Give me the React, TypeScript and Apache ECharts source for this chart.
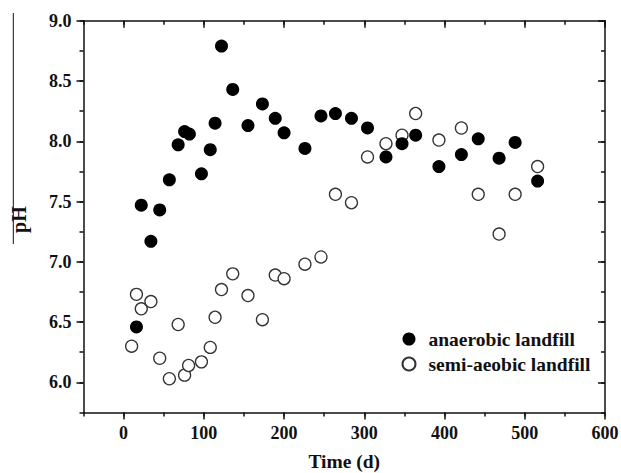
import React, { useEffect, useRef } from "react";
import * as echarts from "echarts";

const days = [16, 22, 34, 45, 57, 68, 76, 82, 97, 108, 114, 122, 136, 155, 173, 189, 200, 226, 246, 264, 284, 304, 327, 347, 364, 393, 421, 442, 468, 488, 516];
const anaerobicPH = [6.46, 7.47, 7.17, 7.43, 7.68, 7.97, 8.08, 8.06, 7.73, 7.93, 8.15, 8.79, 8.43, 8.13, 8.31, 8.19, 8.07, 7.94, 8.21, 8.23, 8.19, 8.11, 7.87, 7.98, 8.05, 7.79, 7.89, 8.02, 7.86, 7.99, 7.67];
const semiDays = [10, 16, 22, 34, 45, 57, 68, 76, 81, 97, 108, 114, 122, 136, 155, 173, 189, 200, 226, 246, 264, 284, 304, 327, 347, 364, 393, 421, 442, 468, 488, 516];
const semiPH = [6.3, 6.73, 6.61, 6.67, 6.2, 6.03, 6.48, 6.06, 6.14, 6.17, 6.29, 6.54, 6.77, 6.9, 6.72, 6.52, 6.89, 6.86, 6.98, 7.04, 7.56, 7.49, 7.87, 7.98, 8.05, 8.23, 8.01, 8.11, 7.56, 7.23, 7.56, 7.79];
const xTicks = [0, 100, 200, 300, 400, 500, 600];
const yTicks = [6.0, 6.5, 7.0, 7.5, 8.0, 8.5, 9.0];

const FONT = "'Liberation Serif', 'Times New Roman', serif";

export default function App() {
  const ref = useRef<HTMLDivElement>(null);
  useEffect(() => {
    const chart = echarts.init(ref.current!, null, { renderer: "svg" });
    const line = { show: true, onZero: false, lineStyle: { color: "#111", width: 1.5 } };
    const label = { color: "#111", fontFamily: FONT, fontWeight: "bold" as const, fontSize: 18 };
    chart.setOption({
      animation: false,
      backgroundColor: "#fff",
      grid: { left: 83.5, right: 16, top: 20.7, bottom: 60.5, outerBoundsMode: "none", containLabel: false },
      legend: {
        orient: "vertical",
        left: 396.5,
        top: 324,
        itemWidth: 13,
        itemHeight: 13,
        itemGap: 5,
        icon: "circle",
        textStyle: { ...label, fontSize: 19.5, lineHeight: 19, padding: [0, 0, 0, 8] },
        data: ["anaerobic landfill", "semi-aeobic landfill"],
      },
      xAxis: [
        {
          type: "value", position: "bottom", min: -50, max: 600, interval: 50,
          axisLine: line, splitLine: { show: false },
          axisTick: { show: true, length: 7, customValues: xTicks, lineStyle: { color: "#111", width: 1.5 } },
          axisLabel: { ...label, margin: 11, customValues: xTicks },
          name: "Time (d)", nameLocation: "middle", nameGap: 42,
          nameTextStyle: { color: "#111", fontFamily: FONT, fontWeight: "bold", fontSize: 19.5, lineHeight: 14 },
        },
        {
          type: "value", position: "bottom", min: -50, max: 600, interval: 50,
          axisLine: { show: false, onZero: false }, splitLine: { show: false },
          axisTick: { show: true, length: 4, lineStyle: { color: "#111", width: 1.5 } },
          axisLabel: { show: false },
        },
        {
          type: "value", position: "top", min: -50, max: 600, interval: 50,
          axisLine: line, splitLine: { show: false },
          axisTick: { show: true, inside: true, length: 4, lineStyle: { color: "#111", width: 1.5 } },
          axisLabel: { show: false },
        },
        {
          type: "value", position: "top", min: -50, max: 600, interval: 50,
          axisLine: { show: false, onZero: false }, splitLine: { show: false },
          axisTick: { show: true, inside: true, length: 7, customValues: xTicks, lineStyle: { color: "#111", width: 1.5 } },
          axisLabel: { show: false },
        },
      ],
      yAxis: [
        {
          type: "value", position: "left", min: 5.75, max: 9, interval: 0.25,
          axisLine: line, splitLine: { show: false },
          axisTick: { show: true, length: 7, customValues: yTicks, lineStyle: { color: "#111", width: 1.5 } },
          axisLabel: { ...label, margin: 12, customValues: yTicks, formatter: (v: number) => v.toFixed(1) },
          name: "pH", nameLocation: "middle", nameGap: 55, nameRotate: 90,
          nameTextStyle: { color: "#111", fontFamily: FONT, fontWeight: "bold", fontSize: 20, padding: [0, 6, 0, 0] },
        },
        {
          type: "value", position: "left", min: 5.75, max: 9, interval: 0.25,
          axisLine: { show: false, onZero: false }, splitLine: { show: false },
          axisTick: { show: true, length: 4, lineStyle: { color: "#111", width: 1.5 } },
          axisLabel: { show: false },
        },
        {
          type: "value", position: "right", min: 5.75, max: 9, interval: 0.25,
          axisLine: line, splitLine: { show: false },
          axisTick: { show: true, inside: true, length: 4, lineStyle: { color: "#111", width: 1.5 } },
          axisLabel: { show: false },
        },
        {
          type: "value", position: "right", min: 5.75, max: 9, interval: 0.25,
          axisLine: { show: false, onZero: false }, splitLine: { show: false },
          axisTick: { show: true, inside: true, length: 7, customValues: yTicks, lineStyle: { color: "#111", width: 1.5 } },
          axisLabel: { show: false },
        },
      ],
      graphic: [
        { type: "line", shape: { x1: 13.3, y1: 13, x2: 13.3, y2: 244 }, style: { stroke: "#111", lineWidth: 1 } },
      ],
      series: [
        {
          name: "anaerobic landfill",
          type: "scatter",
          symbol: "circle",
          symbolSize: 13,
          itemStyle: { color: "#000", opacity: 1 },
          data: days.map((d, i) => [d, anaerobicPH[i]]),
          z: 3,
        },
        {
          name: "semi-aeobic landfill",
          type: "scatter",
          symbol: "circle",
          symbolSize: 12,
          itemStyle: { color: "#fff", borderColor: "#333", borderWidth: 1.3, opacity: 1 },
          data: semiDays.map((d, i) => [d, semiPH[i]]),
          z: 2,
        },
      ],
    });
    return () => chart.dispose();
  }, []);
  return (
    <div
      ref={ref}
      style={{ position: "absolute", left: 0, top: 0, width: 621, height: 473, background: "#fff" }}
    />
  );
}
